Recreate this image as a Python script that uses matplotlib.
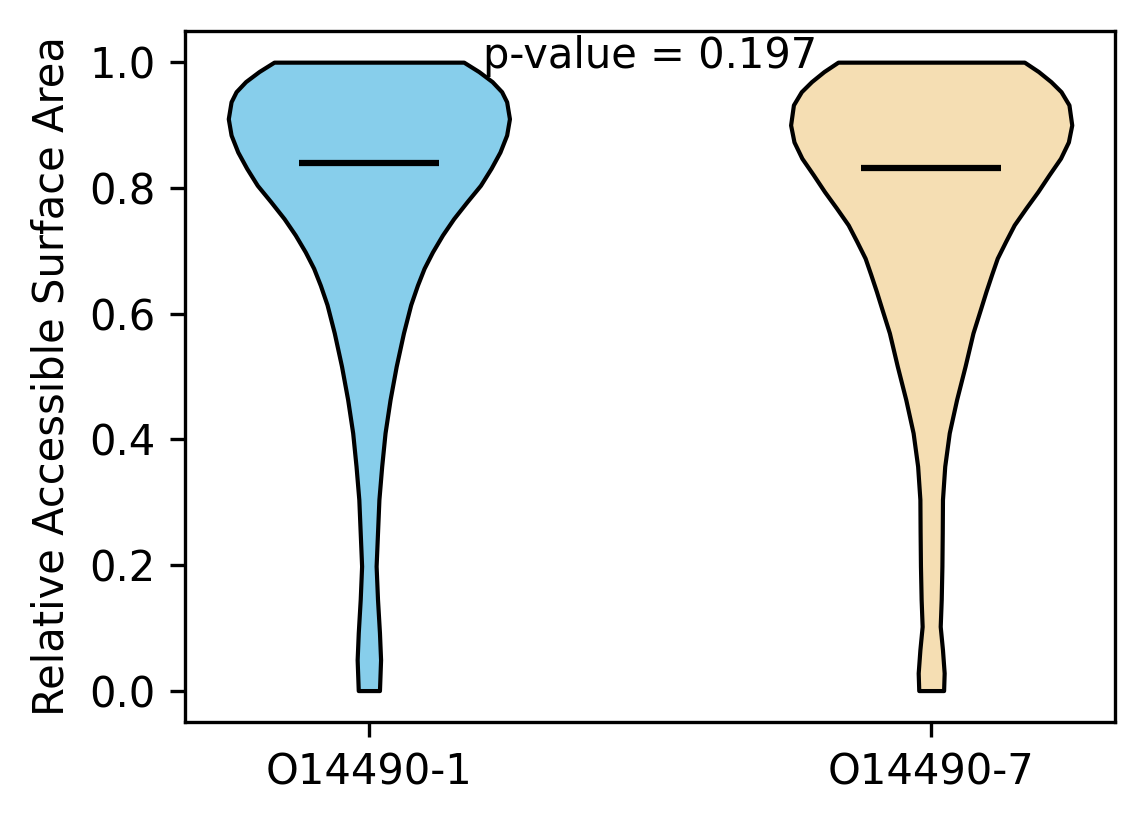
import numpy as np
import matplotlib
matplotlib.use("Agg")
import matplotlib.pyplot as plt

# violin outlines: y level -> half width (density, arbitrary units)
labels = ["O14490-1", "O14490-7"]
colors = ["skyblue", "wheat"]

y_1 = [0.0, 0.049, 0.092, 0.145, 0.198, 0.251, 0.304, 0.357, 0.410, 0.463,
       0.516, 0.569, 0.614, 0.645, 0.672, 0.698, 0.725, 0.751, 0.778, 0.804,
       0.831, 0.857, 0.884, 0.910, 0.937, 0.953, 0.969, 0.985, 1.0]
w_1 = [0.019, 0.021, 0.019, 0.0155, 0.013, 0.0155, 0.018, 0.023, 0.029, 0.038,
       0.049, 0.062, 0.075, 0.087, 0.099, 0.114, 0.132, 0.152, 0.176, 0.200,
       0.219, 0.235, 0.247, 0.252, 0.247, 0.238, 0.221, 0.197, 0.170]

y_7 = [0.0, 0.028, 0.065, 0.102, 0.145, 0.198, 0.251, 0.304, 0.357, 0.410,
       0.463, 0.516, 0.569, 0.609, 0.635, 0.662, 0.688, 0.715, 0.741, 0.768,
       0.794, 0.821, 0.847, 0.873, 0.900, 0.932, 0.953, 0.969, 0.985, 1.0]
w_7 = [0.022, 0.023, 0.020, 0.016, 0.0178, 0.019, 0.0196, 0.020, 0.024, 0.032,
       0.045, 0.060, 0.074, 0.088, 0.097, 0.107, 0.117, 0.132, 0.147, 0.168,
       0.189, 0.209, 0.229, 0.243, 0.249, 0.244, 0.230, 0.212, 0.190, 0.165]

means = [0.840, 0.832]
p_value = 0.197

fig, ax = plt.subplots(figsize=(1144 / 300, 824 / 300), dpi=300)
fig.subplots_adjust(left=0.1617, right=0.9747, top=0.9627, bottom=0.1238)

stats = []
for yy, ww, m in zip([y_1, y_7], [w_1, w_7], means):
    stats.append({"coords": np.array(yy), "vals": np.array(ww), "mean": m,
                  "median": m, "min": min(yy), "max": max(yy)})

parts = ax.violin(stats, positions=[1, 2], widths=0.5, showmeans=True,
                  showextrema=False)
for body, c in zip(parts["bodies"], colors):
    body.set_facecolor(c)
    body.set_edgecolor("black")
    body.set_linewidth(1)
    body.set_alpha(1)
parts["cmeans"].set_color("black")
parts["cmeans"].set_linewidth(1.5)

ax.set_xticks([1, 2])
ax.set_xticklabels(labels)
ax.set_xlim(0.673, 2.327)
ax.set_ylim(-0.05, 1.05)
ax.set_ylabel("Relative Accessible Surface Area")
ax.text(1.5, 0.99, "p-value = %.3f" % p_value, ha="center", va="baseline")

fig.savefig("out.png", dpi=300)
